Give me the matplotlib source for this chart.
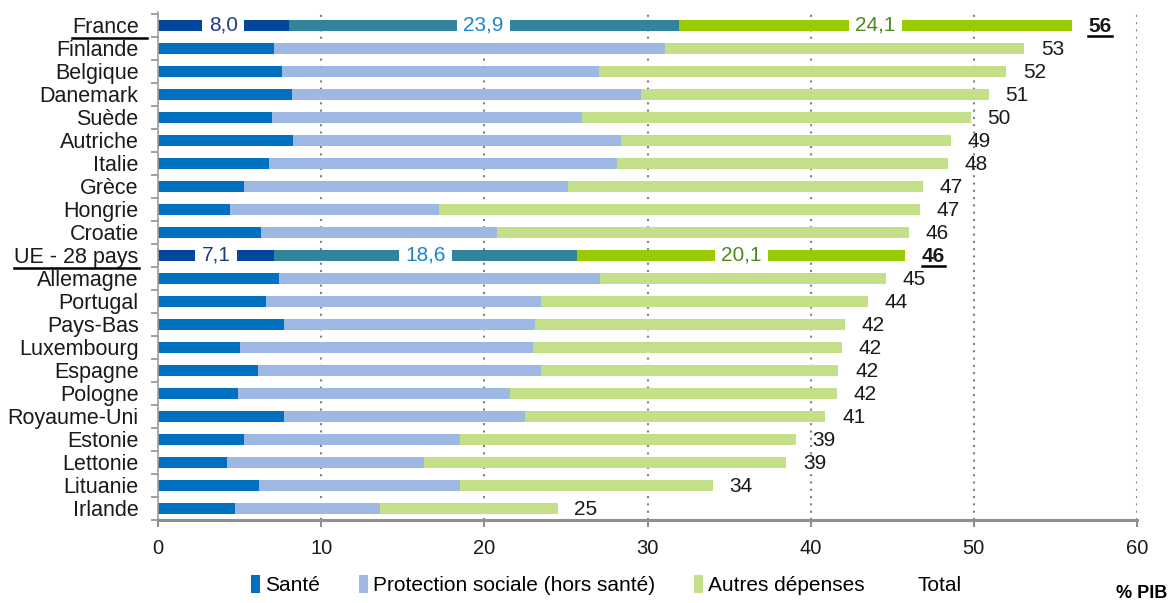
import numpy as np
import matplotlib
matplotlib.use("Agg")
import matplotlib.pyplot as plt
from matplotlib.patches import Patch
from matplotlib.lines import Line2D

plt.rcParams['font.family'] = ['Liberation Sans', 'DejaVu Sans']

pays = ["France", "Finlande", "Belgique", "Danemark", "Suède", "Autriche", "Italie",
        "Grèce", "Hongrie", "Croatie", "UE - 28 pays", "Allemagne", "Portugal",
        "Pays-Bas", "Luxembourg", "Espagne", "Pologne", "Royaume-Uni", "Estonie",
        "Lettonie", "Lituanie", "Irlande"]
sante = [8.0, 7.1, 7.6, 8.2, 7.0, 8.3, 6.8, 5.3, 4.4, 6.3, 7.1, 7.4, 6.6, 7.7, 5.0,
         6.1, 4.9, 7.7, 5.3, 4.2, 6.2, 4.7]
protection = [23.9, 24.0, 19.4, 21.4, 19.0, 20.1, 21.3, 19.8, 12.8, 14.5, 18.6, 19.7,
              16.9, 15.4, 18.0, 17.4, 16.7, 14.8, 13.2, 12.1, 12.3, 8.9]
autres = [24.1, 22.0, 25.0, 21.3, 23.8, 20.2, 20.3, 21.8, 29.5, 25.2, 20.1, 17.5, 20.0,
          19.0, 18.9, 18.2, 20.0, 18.4, 20.6, 22.2, 15.5, 10.9]
total = [56, 53, 52, 51, 50, 49, 48, 47, 47, 46, 46, 45, 44, 42, 42, 42, 42, 41, 39, 39, 34, 25]
mis_en_avant = ["France", "UE - 28 pays"]

sante = np.array(sante)
protection = np.array(protection)
autres = np.array(autres)

# couleurs
c_sante, c_prot, c_autres = "#0070C0", "#9DB9E3", "#C3DF87"
h_sante, h_prot, h_autres = "#03479C", "#31849B", "#99CC00"
t_sante, t_prot, t_autres = "#1F3C80", "#1B84D4", "#4E8A1C"

fig = plt.figure(figsize=(11.71, 6.03), dpi=100)
ax = fig.add_axes([0.1349, 0.1376, 0.9710 - 0.1349, 0.980 - 0.1376])

y = np.arange(len(pays))
hl = np.array([p in mis_en_avant for p in pays])
col_s = [h_sante if h else c_sante for h in hl]
col_p = [h_prot if h else c_prot for h in hl]
col_a = [h_autres if h else c_autres for h in hl]

bh = 0.48
ax.barh(y, sante, height=bh, color=col_s, zorder=2)
ax.barh(y, protection, left=sante, height=bh, color=col_p, zorder=2)
ax.barh(y, autres, left=sante + protection, height=bh, color=col_a, zorder=2)

def fmt(v):
    return f"{v:.1f}".replace(".", ",")

for i in y[hl]:
    segs = [(0, sante[i], t_sante),
            (sante[i], protection[i], t_prot),
            (sante[i] + protection[i], autres[i], t_autres)]
    for left, w, tc in segs:
        ax.text(left + w / 2, i, fmt(w), ha="center", va="center", color=tc,
                fontsize=15, zorder=4,
                bbox=dict(boxstyle="square,pad=0.3", fc="white", ec="none"))

tot_texts = {}
for i in y:
    t = ax.annotate(str(total[i]), xy=(sante[i] + protection[i] + autres[i], i),
                    xytext=(12, -1), textcoords="offset points", ha="left",
                    va="center", fontsize=15, color="#1a1a1a",
                    fontweight="bold" if hl[i] else "normal")
    tot_texts[i] = t

ax.set_xlim(0, 60)
ax.set_ylim(21.52, -0.57)
ax.set_xticks(np.arange(0, 61, 10))
ax.set_yticks(y)
ax.set_yticklabels(pays, fontsize=15.5, color="#1a1a1a")
ax.set_yticks(np.arange(-0.5, len(pays), 1.0), minor=True)
ax.tick_params(axis="y", which="major", length=0, pad=14)
ax.tick_params(axis="y", which="minor", length=5, color="#909090", width=1.2)
ax.tick_params(axis="x", which="major", length=5, color="#909090", width=1.5,
               labelsize=14.5, pad=9, labelcolor="#1a1a1a")

ax.xaxis.grid(True, linestyle=(0, (1, 2.5)), color="#808080", linewidth=1.5, zorder=0)
ax.set_axisbelow(True)
for s in ["top", "right"]:
    ax.spines[s].set_visible(False)
ax.spines["left"].set_color("#A0A0A0")
ax.spines["left"].set_linewidth(1.2)
ax.spines["bottom"].set_color("#909090")
ax.spines["bottom"].set_linewidth(2.2)

handles = [Patch(facecolor=c_sante), Patch(facecolor=c_prot), Patch(facecolor=c_autres),
           Patch(facecolor="none", edgecolor="none")]
fig.legend(handles, ["Santé", "Protection sociale (hors santé)", "Autres dépenses", "Total"],
           loc="center", bbox_to_anchor=(0.518, 0.03), ncol=4, frameon=False,
           fontsize=15, handlelength=0.4, handleheight=1.0, handletextpad=0.25,
           columnspacing=1.9)

fig.text(0.997, 0.016, "% PIB", ha="right", va="center", fontsize=13, fontweight="bold")

# soulignements
fig.canvas.draw()
r = fig.canvas.get_renderer()
inv = fig.transFigure.inverted()

def souligne(txt, extra=0):
    bb = txt.get_window_extent(renderer=r)
    (x0, y0), (x1, _) = inv.transform([(bb.x0, bb.y0), (bb.x1 + extra, bb.y0)])
    fig.add_artist(Line2D([x0, x1], [y0, y0], color="black", linewidth=1.8,
                          transform=fig.transFigure))

labels = ax.get_yticklabels()
extra_lig = {"France": 8, "UE - 28 pays": 0}
for i in y[hl]:
    souligne(labels[i], extra=extra_lig[pays[i]])
    souligne(tot_texts[i])

fig.savefig("out.png", dpi=100)
